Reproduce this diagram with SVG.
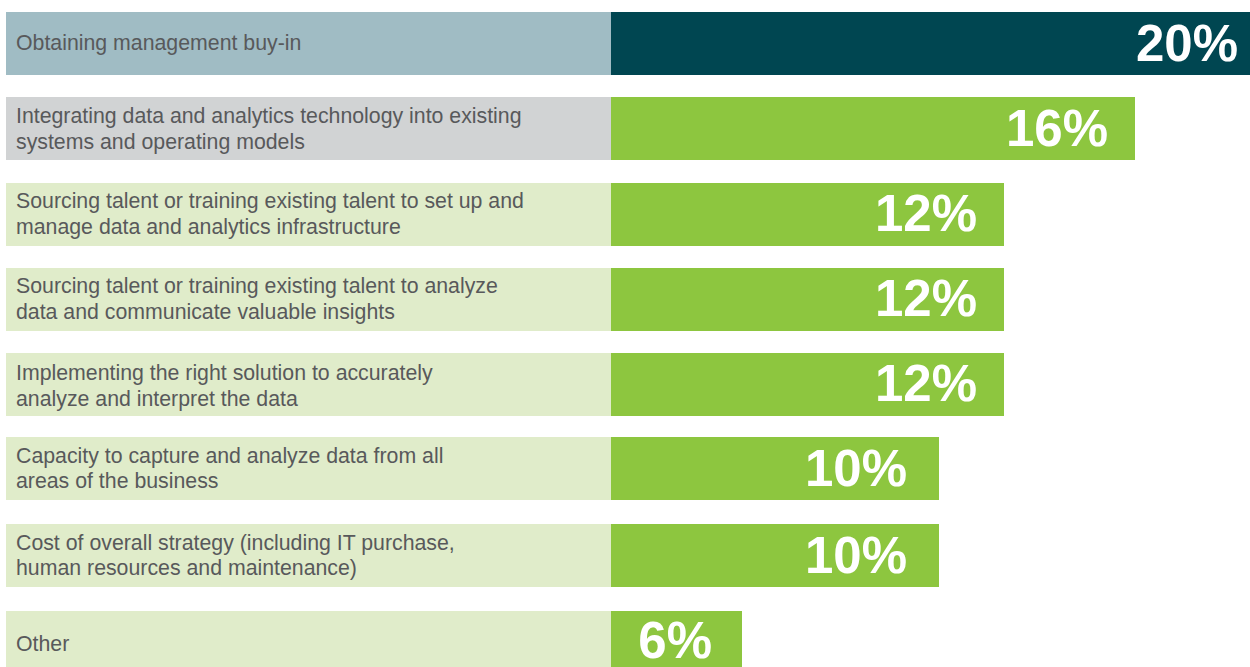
<svg xmlns="http://www.w3.org/2000/svg" width="1250" height="667" viewBox="0 0 1250 667">
<style>
.lab{font-family:"Liberation Sans",Arial,sans-serif;font-size:21.3px;fill:#58595b}
.pct{font-family:"Liberation Sans",Arial,sans-serif;font-size:51px;font-weight:bold;fill:#ffffff;text-anchor:end}
.lg{fill:#e0ecca}
.bar{fill:#8dc63f}
</style>
<rect width="1250" height="667" fill="#ffffff"/>
<g id="row1">
<rect x="6" y="12" width="605" height="63" fill="#a0bcc4"/>
<rect x="611" y="12" width="639" height="63" fill="#004651"/>
<text class="lab" x="16" y="50">Obtaining management buy-in</text>
<text class="pct" x="1238" y="61">20%</text>
</g>
<g id="row2">
<rect x="6" y="97" width="605" height="63" fill="#d1d3d4"/>
<rect class="bar" x="611" y="97" width="524" height="63"/>
<text class="lab" x="16" y="123">Integrating data and analytics technology into existing</text>
<text class="lab" x="16" y="149">systems and operating models</text>
<text class="pct" x="1108" y="146">16%</text>
</g>
<g id="row3">
<rect class="lg" x="6" y="183" width="605" height="63"/>
<rect class="bar" x="611" y="183" width="393" height="63"/>
<text class="lab" x="16" y="208">Sourcing talent or training existing talent to set up and</text>
<text class="lab" x="16" y="234">manage data and analytics infrastructure</text>
<text class="pct" x="977" y="231">12%</text>
</g>
<g id="row4">
<rect class="lg" x="6" y="268" width="605" height="63"/>
<rect class="bar" x="611" y="268" width="393" height="63"/>
<text class="lab" x="16" y="293">Sourcing talent or training existing talent to analyze</text>
<text class="lab" x="16" y="319">data and communicate valuable insights</text>
<text class="pct" x="977" y="316">12%</text>
</g>
<g id="row5">
<rect class="lg" x="6" y="353" width="605" height="63"/>
<rect class="bar" x="611" y="353" width="393" height="63"/>
<text class="lab" x="16" y="380">Implementing the right solution to accurately</text>
<text class="lab" x="16" y="406">analyze and interpret the data</text>
<text class="pct" x="977" y="401">12%</text>
</g>
<g id="row6">
<rect class="lg" x="6" y="437" width="605" height="63"/>
<rect class="bar" x="611" y="437" width="328" height="63"/>
<text class="lab" x="16" y="463">Capacity to capture and analyze data from all</text>
<text class="lab" x="16" y="488">areas of the business</text>
<text class="pct" x="907" y="486">10%</text>
</g>
<g id="row7">
<rect class="lg" x="6" y="524" width="605" height="63"/>
<rect class="bar" x="611" y="524" width="328" height="63"/>
<text class="lab" x="16" y="550">Cost of overall strategy (including IT purchase,</text>
<text class="lab" x="16" y="575">human resources and maintenance)</text>
<text class="pct" x="907" y="573">10%</text>
</g>
<g id="row8">
<rect class="lg" x="6" y="611" width="605" height="56"/>
<rect class="bar" x="611" y="611" width="131" height="56"/>
<text class="lab" x="16" y="651">Other</text>
<text class="pct" x="712" y="658">6%</text>
</g>
</svg>
